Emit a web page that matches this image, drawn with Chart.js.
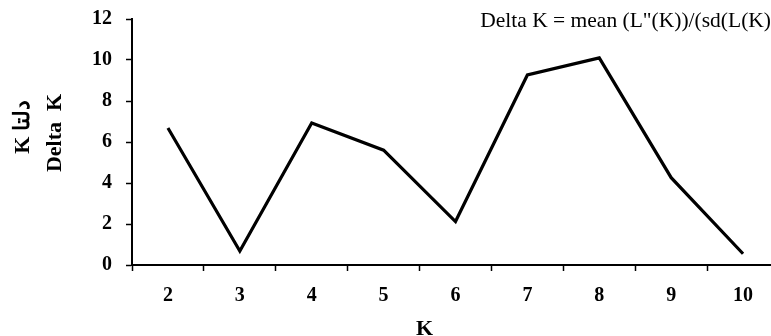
<!DOCTYPE html>
<html>
<head>
<meta charset="utf-8">
<script src="https://cdn.jsdelivr.net/npm/chart.js@4/dist/chart.umd.min.js"></script>
<style>
  html, body { margin: 0; padding: 0; background: #fff; overflow: hidden; }
  #wrap { position: relative; width: 780px; height: 336px; }
</style>
</head>
<body>
<div id="wrap"><canvas id="c"></canvas></div>
<script>
const categories = ['2', '3', '4', '5', '6', '7', '8', '9', '10'];
const deltaK = [6.68, 0.68, 6.93, 5.6, 2.12, 9.27, 10.1, 4.26, 0.55];
const yTicks = [0, 2, 4, 6, 8, 10, 12];
const yTitle = ['K دلتا', 'Delta  K'];
const xTitle = 'K';
const note = 'Delta K = mean (L"(K))/(sd(L(K)';

const serif = '"Liberation Serif", "Times New Roman", serif';

const overlay = {
  id: 'overlay',
  afterDraw(chart) {
    const ctx = chart.ctx;
    const a = chart.chartArea;
    const midY = (a.top + a.bottom) / 2;
    ctx.save();
    ctx.fillStyle = '#000';
    // formula note at top right
    ctx.font = '21.5px ' + serif;
    ctx.textAlign = 'right';
    ctx.textBaseline = 'alphabetic';
    ctx.fillText(note, 771, 27);
    // x axis title
    ctx.font = 'bold 22px ' + serif;
    ctx.textAlign = 'center';
    ctx.textBaseline = 'bottom';
    ctx.fillText(xTitle, (a.left + a.right) / 2 - 31, 340);
    // y axis title (two rotated lines)
    ctx.textBaseline = 'middle';
    const cols = [[23, midY - 15], [55, midY - 9]];
    yTitle.forEach((t, i) => {
      ctx.save();
      ctx.translate(cols[i][0], cols[i][1]);
      ctx.rotate(-Math.PI / 2);
      ctx.fillText(t, 0, 0);
      ctx.restore();
    });
    ctx.restore();
  }
};

new Chart(document.getElementById('c'), {
  type: 'line',
  data: {
    labels: categories,
    datasets: [{
      data: deltaK,
      borderColor: '#000',
      borderWidth: 3.2,
      pointRadius: 0,
      tension: 0,
      fill: false
    }]
  },
  options: {
    responsive: true,
    maintainAspectRatio: false,
    animation: false,
    layout: { padding: { top: 19, right: 1, left: 0, bottom: 0 } },
    plugins: { legend: { display: false }, tooltip: { enabled: false } },
    scales: {
      x: {
        type: 'category',
        offset: true,
        grid: {
          display: true,
          drawOnChartArea: false,
          drawTicks: true,
          tickLength: 6,
          tickColor: '#000',
          tickWidth: 1.5,
          offset: true
        },
        border: { display: true, color: '#000', width: 2 },
        ticks: {
          color: '#000',
          padding: 13,
          maxRotation: 0,
          font: { family: serif, size: 20, weight: 'bold' }
        },
        title: { display: false },
        afterFit(s) { s.height = 71; s.paddingLeft = 0; s.paddingRight = 0; }
      },
      y: {
        min: 0,
        max: 12,
        afterBuildTicks(s) { s.ticks = yTicks.map(v => ({ value: v })); },
        grid: {
          display: true,
          drawOnChartArea: false,
          drawTicks: true,
          tickLength: 6,
          tickColor: '#000',
          tickWidth: 1.5
        },
        border: { display: true, color: '#000', width: 2 },
        ticks: {
          color: '#000',
          padding: 14,
          font: { family: serif, size: 20, weight: 'bold' }
        },
        title: { display: false },
        afterFit(s) { s.width = 132; s.paddingTop = 0; s.paddingBottom = 0; }
      }
    }
  },
  plugins: [overlay]
});
</script>
</body>
</html>
